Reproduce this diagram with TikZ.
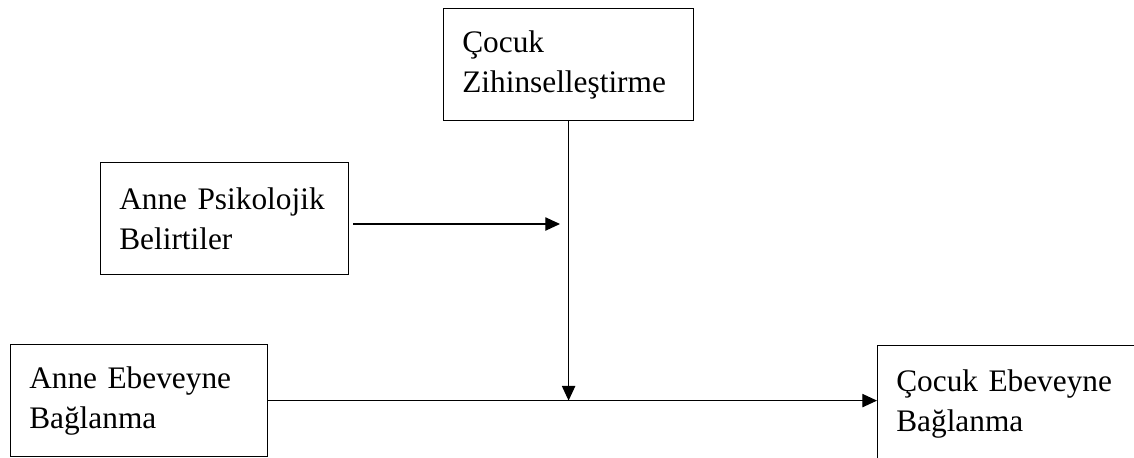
\documentclass[tikz,border=0pt]{standalone}
\usepackage{fontspec}
\setmainfont{Liberation Serif}
\usetikzlibrary{arrows.meta}
\begin{document}
\begin{tikzpicture}[
  x=0.75pt, y=-0.75pt,
  block/.style={rectangle, draw, line width=0.9pt, anchor=north west, minimum height=84pt, text width=#1, align=left, inner xsep=14pt, inner ysep=0pt, font=\fontsize{23.5}{30}\selectfont},
  link/.style={line width=0.9pt, -{Triangle[length=11pt, width=10pt]}}
]
\useasboundingbox (0,0) rectangle (1134,457);
\clip (0,0) rectangle (1134,457);

\node[block=159.5pt] (czh) at (443,8) {Çocuk\\Zihinselleştirme};
\node[block=158pt] (aps) at (100,162) {Anne Psikolojik\\Belirtiler};
\node[block=164.75pt] (aeb) at (10,344) {Anne Ebeveyne\\Bağlanma};
\node[block=250pt, minimum height=88pt] (ceb) at (877,345) {Çocuk Ebeveyne\\Bağlanma};

% junction points on the centre line
\coordinate (mid) at (560,224);
\coordinate (bot) at (czh.south |- aeb.east);

\draw[link] ([xshift=3pt]aps.east |- mid) -- (mid);
\draw[link] (czh.south) -- (bot);
\draw[link] (aeb.east) -- (aeb.east -| ceb.west);
\end{tikzpicture}
\end{document}
